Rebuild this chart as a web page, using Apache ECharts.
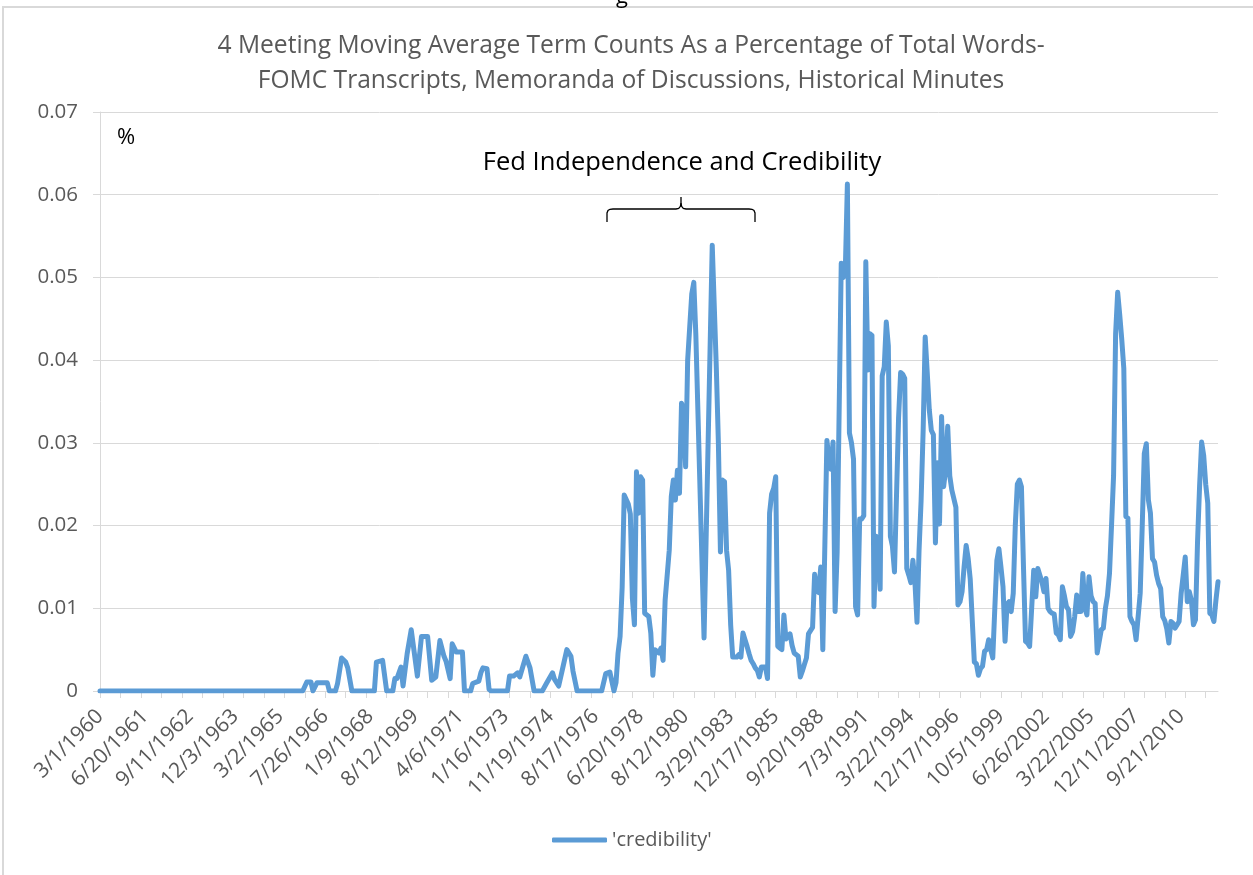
<!DOCTYPE html>
<html>
<head>
<meta charset="utf-8">
<script src="https://cdn.jsdelivr.net/npm/echarts@6/dist/echarts.min.js"></script>
<style>
body { margin: 0px; background: #fff; }
#main1 { width: 1253px; height: 875px; }
</style>
</head>
<body>
<div id="main1"></div>
<script>
// meeting index -> date label (a label every 22 meetings)
var dateLabels = ['3/1/1960', '6/20/1961', '9/11/1962', '12/3/1963', '3/2/1965', '7/26/1966',
	'1/9/1968', '8/12/1969', '4/6/1971', '1/16/1973', '11/19/1974', '8/17/1976', '6/20/1978',
	'8/12/1980', '3/29/1983', '12/17/1985', '9/20/1988', '7/3/1991', '3/22/1994', '12/17/1996',
	'10/5/1999', '6/26/2002', '3/22/2005', '12/11/2007', '9/21/2010'];
var meetingCount = 547;
var yTicks = [0, 0.01, 0.02, 0.03, 0.04, 0.05, 0.06, 0.07];

// [meeting index, % of words]
var credibility = [
	[0, 0], [99, 0], [101, 0.0011], [103, 0.0011], [104, 0], [106, 0.0010], [111, 0.0010], [112, 0],
	[115, 0], [116, 0.0009], [118, 0.0040], [120, 0.0035], [121, 0.0028], [123, 0],
	[134, 0], [135, 0.0035], [138, 0.0037], [140, 0], [143, 0], [144, 0.0015], [145, 0.0015],
	[147, 0.0029], [148, 0.0006], [150, 0.0045], [152, 0.0074], [155, 0.0018], [157, 0.0066],
	[160, 0.0066], [162, 0.0013], [164, 0.0017], [166, 0.0061], [168, 0.0042], [169, 0.0036],
	[171, 0.0015], [172, 0.0057], [174, 0.0047], [177, 0.0047], [178, 0], [181, 0], [182, 0.0009],
	[185, 0.0012], [186, 0.0022], [187, 0.0028], [189, 0.0027], [190, 0.0002], [191, 0],
	[199, 0], [200, 0.0018], [202, 0.0018], [204, 0.0022], [205, 0.0017], [208, 0.0042],
	[209, 0.0035], [210, 0.0028], [212, 0], [216, 0], [218, 0.0009], [221, 0.0022], [222, 0.0014],
	[224, 0.0006], [226, 0.0028], [228, 0.0050], [230, 0.0042], [231, 0.0024], [233, 0],
	[245, 0], [247, 0.0021], [249, 0.0023], [251, 0], [252, 0.0010], [253, 0.0046], [254, 0.0066],
	[255, 0.0125], [256, 0.0237], [258, 0.0226], [259, 0.0214], [260, 0.0112], [261, 0.0080],
	[262, 0.0265], [263, 0.0215], [264, 0.0259], [265, 0.0255], [266, 0.0094], [268, 0.0090],
	[269, 0.0070], [270, 0.0019], [271, 0.0050], [273, 0.0046], [274, 0.0052], [275, 0.0037],
	[276, 0.0110], [278, 0.0170], [279, 0.0235], [280, 0.0255], [281, 0.0231], [282, 0.0267],
	[283, 0.0239], [284, 0.0348], [285, 0.0340], [286, 0.0271], [287, 0.0400], [289, 0.0480],
	[290, 0.0494], [291, 0.0430], [295, 0.0064], [299, 0.0539], [301, 0.0390], [302, 0.0300],
	[303, 0.0168], [304, 0.0255], [305, 0.0253], [306, 0.0170], [307, 0.0146], [308, 0.0080],
	[309, 0.0041], [311, 0.0041], [312, 0.0044], [313, 0.0041], [314, 0.0070], [315, 0.0062],
	[316, 0.0054], [317, 0.0045], [318, 0.0037], [319, 0.0033], [320, 0.0028], [321, 0.0025],
	[322, 0.0017], [323, 0.0029], [325, 0.0029], [326, 0.0015], [327, 0.0215], [328, 0.0238],
	[329, 0.0245], [330, 0.0259], [331, 0.0054], [332, 0.0052], [333, 0.0050], [334, 0.0092],
	[335, 0.0063], [337, 0.0069], [338, 0.0055], [339, 0.0046], [341, 0.0042], [342, 0.0017],
	[343, 0.0024], [344, 0.0032], [345, 0.0040], [346, 0.0069], [348, 0.0077], [349, 0.0141],
	[350, 0.0121], [351, 0.0119], [352, 0.0150], [353, 0.0050], [355, 0.0303], [356, 0.0280],
	[357, 0.0268], [358, 0.0301], [359, 0.0096], [360, 0.0168], [362, 0.0517], [363, 0.0500],
	[364, 0.0510], [365, 0.0613], [366, 0.0312], [367, 0.0300], [368, 0.0280], [369, 0.0102],
	[370, 0.0092], [371, 0.0208], [372, 0.0208], [373, 0.0212], [374, 0.0519], [375, 0.0388],
	[376, 0.0432], [377, 0.0430], [378, 0.0102], [379, 0.0187], [380, 0.0170], [381, 0.0123],
	[382, 0.0381], [383, 0.0392], [384, 0.0446], [385, 0.0417], [386, 0.0187], [387, 0.0175],
	[388, 0.0144], [390, 0.0330], [391, 0.0385], [392, 0.0383], [393, 0.0378], [394, 0.0148],
	[395, 0.0140], [396, 0.0131], [397, 0.0158], [398, 0.0131], [399, 0.0083], [400, 0.0170],
	[401, 0.0230], [402, 0.0315], [403, 0.0428], [404, 0.0385], [405, 0.0340], [406, 0.0315],
	[407, 0.0310], [408, 0.0179], [409, 0.0276], [410, 0.0202], [411, 0.0332], [412, 0.0247],
	[413, 0.0268], [414, 0.0320], [415, 0.0260], [416, 0.0243], [418, 0.0222], [419, 0.0104],
	[420, 0.0108], [421, 0.0120], [422, 0.0150], [423, 0.0176], [424, 0.0160], [425, 0.0135],
	[427, 0.0035], [428, 0.0033], [429, 0.0019], [430, 0.0027], [431, 0.0030], [432, 0.0048],
	[433, 0.0050], [434, 0.0062], [435, 0.0050], [436, 0.0040], [437, 0.0100], [438, 0.0158],
	[439, 0.0172], [440, 0.0150], [441, 0.0126], [442, 0.0060], [443, 0.0105], [444, 0.0108],
	[445, 0.0096], [446, 0.0118], [447, 0.0200], [448, 0.0250], [449, 0.0255], [450, 0.0247],
	[451, 0.0150], [452, 0.0060], [453, 0.0058], [454, 0.0054], [455, 0.0100], [456, 0.0146],
	[457, 0.0114], [458, 0.0148], [459, 0.0140], [460, 0.0132], [461, 0.0120], [462, 0.0136],
	[463, 0.0100], [464, 0.0096], [465, 0.0094], [466, 0.0093], [467, 0.0070], [468, 0.0068],
	[469, 0.0062], [470, 0.0126], [471, 0.0115], [472, 0.0102], [473, 0.0098], [474, 0.0066],
	[475, 0.0072], [476, 0.0090], [477, 0.0116], [478, 0.0096], [479, 0.0096], [480, 0.0142],
	[481, 0.0100], [482, 0.0092], [483, 0.0138], [484, 0.0115], [485, 0.0108], [486, 0.0106],
	[487, 0.0046], [488, 0.0060], [489, 0.0074], [490, 0.0076], [491, 0.0100], [492, 0.0115],
	[493, 0.0142], [494, 0.0200], [495, 0.0260], [496, 0.0432], [497, 0.0482], [498, 0.0455],
	[499, 0.0425], [500, 0.0390], [501, 0.0211], [502, 0.0209], [503, 0.0090], [504, 0.0084],
	[505, 0.0080], [506, 0.0062], [507, 0.0090], [508, 0.0118], [509, 0.0200], [510, 0.0287],
	[511, 0.0299], [512, 0.0231], [513, 0.0215], [514, 0.0160], [515, 0.0156], [516, 0.0140],
	[517, 0.0130], [518, 0.0124], [519, 0.0090], [520, 0.0085], [521, 0.0075], [522, 0.0058],
	[523, 0.0084], [524, 0.0082], [525, 0.0076], [526, 0.0080], [527, 0.0084], [528, 0.0118],
	[529, 0.0140], [530, 0.0162], [531, 0.0108], [532, 0.0120], [533, 0.0110], [534, 0.0080],
	[535, 0.0086], [536, 0.0180], [537, 0.0247], [538, 0.0301], [539, 0.0285], [540, 0.0250],
	[541, 0.0227], [542, 0.0094], [543, 0.0092], [544, 0.0084], [545, 0.0110], [546, 0.0132]
];

var categories = [];
for (var i = 0; i < meetingCount; i++) {
	categories.push(i % 22 === 0 ? dateLabels[i / 22] : '');
}

var myChart = echarts.init(document.getElementById('main1'));
var font = 'Open Sans';

var option = {
	animation: false,
	textStyle: { fontFamily: font },
	title: {
		text: '4 Meeting Moving Average Term Counts As a Percentage of Total Words-\nFOMC Transcripts, Memoranda of Discussions, Historical Minutes',
		left: 631,
		top: 28,
		padding: 0,
		textAlign: 'center',
		textStyle: { fontFamily: font, fontSize: 24.6, fontWeight: 'normal', color: '#595959', lineHeight: 35 }
	},
	grid: { left: 100, right: 35, top: 112, bottom: 184 },
	legend: {
		bottom: 25,
		left: 552,
		padding: 0,
		itemWidth: 55,
		itemHeight: 5,
		textStyle: { fontFamily: font, fontSize: 20, color: '#595959' },
		data: [{ name: "'credibility'", icon: 'roundRect' }]
	},
	xAxis: {
		type: 'category',
		boundaryGap: false,
		data: categories,
		axisLine: { lineStyle: { color: '#d9d9d9', width: 1 } },
		axisTick: { interval: 9, length: 7, lineStyle: { color: '#d9d9d9' } },
		axisLabel: { interval: 21, rotate: 45, margin: 22, fontFamily: font, fontSize: 21, color: '#595959' },
		splitLine: { show: false }
	},
	yAxis: {
		type: 'value',
		min: yTicks[0],
		max: yTicks[yTicks.length - 1],
		interval: 0.01,
		axisLine: { show: true, lineStyle: { color: '#d9d9d9', width: 1 } },
		axisTick: { show: true, length: 7, lineStyle: { color: '#d9d9d9' } },
		axisLabel: { margin: 22, fontFamily: font, fontSize: 20.5, color: '#595959' },
		splitLine: { lineStyle: { color: '#d9d9d9', width: 1 } }
	},
	graphic: [
		{ type: 'rect', shape: { x: 3, y: 7, width: 1300, height: 900 }, style: { fill: null, stroke: '#d9d9d9', lineWidth: 2 }, silent: true },
		{ type: 'text', x: 622, y: -14, style: { text: 'g', fontFamily: font, fontSize: 22, fill: '#000', align: 'center' } },
		{ type: 'text', x: 117, y: 138, style: { text: '%', fontFamily: font, fontSize: 22, fill: '#000', verticalAlign: 'middle' } },
		{ type: 'text', x: 682, y: 163, style: { text: 'Fed Independence and Credibility', fontFamily: font, fontSize: 25.5, fill: '#000', align: 'center', verticalAlign: 'middle' } },
		{
			type: 'polyline',
			shape: { points: [[607, 222], [607, 213], [608, 210.5], [610, 209.3], [613, 209], [676, 209], [678.7, 208.3], [680.4, 206.3], [681, 203], [681, 197]] },
			style: { fill: null, stroke: '#000', lineWidth: 1.3 }
		},
		{
			type: 'polyline',
			shape: { points: [[755, 222], [755, 213], [754, 210.5], [752, 209.3], [749, 209], [686, 209], [683.3, 208.3], [681.6, 206.3], [681, 203]] },
			style: { fill: null, stroke: '#000', lineWidth: 1.3 }
		}
	],
	series: [
		{
			name: "'credibility'",
			type: 'line',
			data: credibility,
			symbol: 'none',
			lineStyle: { color: '#5b9bd5', width: 5, join: 'round', cap: 'round' },
			itemStyle: { color: '#5b9bd5' }
		}
	]
};

myChart.setOption(option);
</script>
</body>
</html>
